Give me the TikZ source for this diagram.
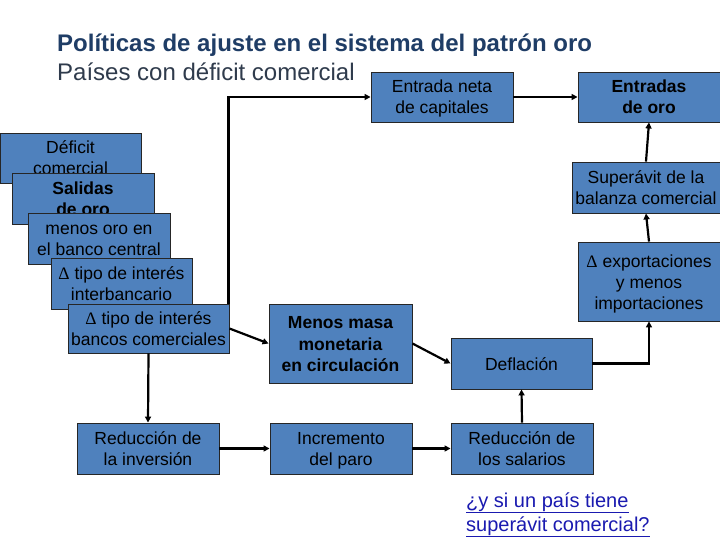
\documentclass[tikz,border=0pt]{standalone}
\usepackage{fontspec}
\setmainfont{Liberation Sans}
\newfontfamily\symf{Liberation Serif}
\usetikzlibrary{arrows.meta}
\definecolor{boxblue}{HTML}{4F81BD}
\definecolor{titleblue}{HTML}{1F3D66}
\definecolor{subgray}{HTML}{2F3B4C}
\definecolor{linkblue}{HTML}{1A1AB0}
\newcommand{\dlt}{{\symf Δ}}
\newcommand{\topst}{\rule{0pt}{17pt}}
\newcommand{\botst}{\rule[-4pt]{0pt}{4pt}}
\tikzset{
  box/.style={draw=black!85, line width=0.9pt, fill=boxblue, inner sep=0pt,
    align=center, font=\fontsize{17.5}{21}\selectfont, text=black},
  arr/.style={line width=2.2pt, -{Triangle[length=6pt,width=6pt]}},
  linktext/.style={anchor=base west, inner sep=0pt, text=linkblue, font=\fontsize{20}{24}\selectfont}
}
\begin{document}
\begin{tikzpicture}[x=1pt,y=-1pt]
\useasboundingbox[fill=white] (0,0) rectangle (720,540);
% title
\node[anchor=base west, inner sep=0pt, text=titleblue, font=\fontsize{24}{28}\selectfont\bfseries] (title) at (57,52) {Políticas de ajuste en el sistema del patrón oro};
\node[anchor=base west, inner sep=0pt, text=subgray, font=\fontsize{24}{28}\selectfont] (sub) at (57,81) {Países con déficit comercial};
% left stack
\node[box, minimum width=141pt, minimum height=50pt] (d1) at (70.5,158) {\topst Déficit\\comercial\botst};
\node[box, minimum width=142pt, minimum height=51pt, font=\fontsize{17.5}{21}\selectfont\bfseries] (d2) at (83,198.5) {\topst Salidas\\de oro\botst};
\node[box, minimum width=142pt, minimum height=51pt] (d3) at (99,238.5) {\topst menos oro en\\el banco central\botst};
\node[box, minimum width=141pt, minimum height=51pt] (d4) at (121.5,283.5) {\topst\dlt{} tipo de interés\\interbancario\botst};
\node[box, minimum width=161pt, minimum height=49pt] (d5) at (148.5,328.5) {\topst\dlt{} tipo de interés\\bancos comerciales\botst};
% top row
\node[box, minimum width=142pt, minimum height=50pt] (e1) at (442,97) {\topst Entrada neta\\de capitales\botst};
\node[box, minimum width=142pt, minimum height=50pt, font=\fontsize{17.5}{21}\selectfont\bfseries] (e2) at (649,97) {\topst Entradas\\de oro\botst};
\node[box, minimum width=148pt, minimum height=51pt] (e3) at (646,187.5) {\topst Superávit de la\\balanza comercial\botst};
\node[box, minimum width=142pt, minimum height=79pt] (e4) at (649,281.5) {\topst\dlt{} exportaciones\\y menos\\importaciones\botst};
% middle
\node[box, minimum width=143pt, minimum height=79pt, font=\fontsize{17.5}{21.5}\selectfont\bfseries] (m) at (340.5,343.5) {\topst Menos masa\\monetaria\\en circulación\botst};
\node[box, minimum width=141pt, minimum height=51pt] (df) at (521.5,363.5) {\topst Deflación\botst};
% bottom row
\node[box, minimum width=142pt, minimum height=51pt] (r1) at (148,448.5) {\topst Reducción de\\la inversión\botst};
\node[box, minimum width=142pt, minimum height=51pt] (r2) at (341,448.5) {\topst Incremento\\del paro\botst};
\node[box, minimum width=142pt, minimum height=51pt] (r3) at (522,448.5) {\topst Reducción de\\los salarios\botst};
% link text
\node[linktext] (link1) at (466,507) {\underline{¿y si un país tiene}};
\node[linktext] (link2) at (466,531) {\underline{superávit comercial?}};
% connectors
\draw[arr] ([xshift=-1pt]d5.north east) |- (e1.west);
\draw[arr] (e1.east) -- (e2.west);
\draw[arr] (e3.north) -- (e2.south);
\draw[arr] (e4.north) -- (e3.south);
\draw[arr] (df.east) -| (e4.south);
\draw[arr] (m.east) -- (df.west);
\draw[arr] (d5.east) -- (m.west);
\draw[arr] (d5.south) -- (r1.north);
\draw[arr] (r1.east) -- (r2.west);
\draw[arr] (r2.east) -- (r3.west);
\draw[arr] (r3.north) -- (df.south);
\end{tikzpicture}
\end{document}
